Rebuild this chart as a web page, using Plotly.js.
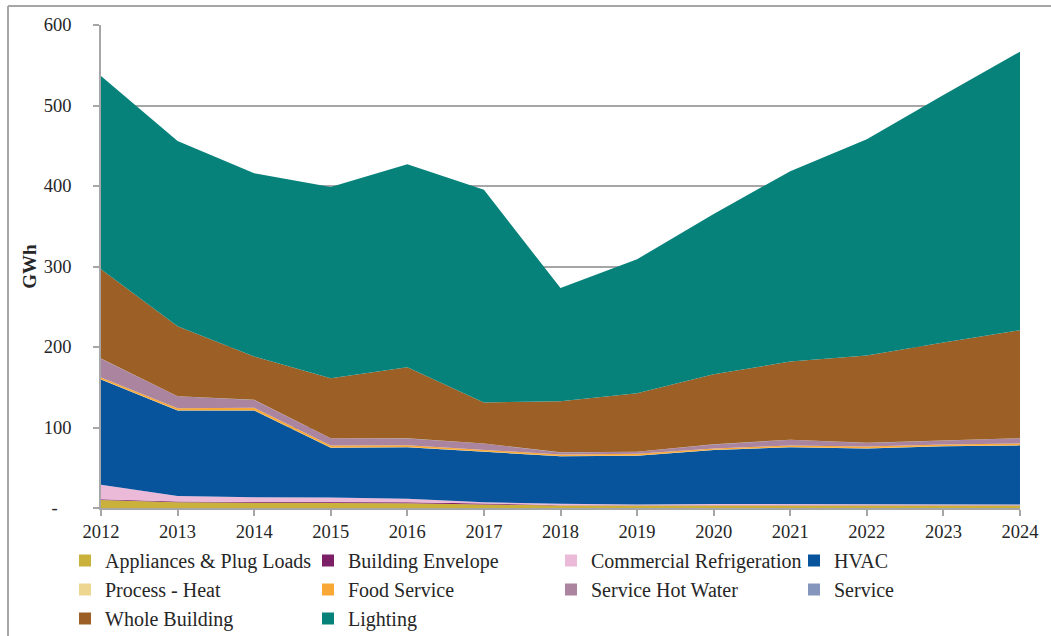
<!DOCTYPE html>
<html>
<head>
<meta charset="utf-8">
<script src="https://cdn.plot.ly/plotly-3.0.1.min.js"></script>
<style>
  html, body { margin: 0; padding: 0; background: #ffffff; }
  #chart { width: 1051px; height: 636px; }
</style>
</head>
<body>
<div id="chart"></div>
<script>
const years = [2012, 2013, 2014, 2015, 2016, 2017, 2018, 2019, 2020, 2021, 2022, 2023, 2024];

const appliancesPlugLoads     = [10, 7, 6.5, 6.5, 6, 4.5, 3, 3, 3, 3, 3, 3, 3];
const buildingEnvelope        = [1, 1, 1, 1, 1, 1, 0.5, 0.3, 0.3, 0.3, 0.3, 0.3, 0.3];
const commercialRefrigeration = [18, 7, 6, 5.5, 4.5, 1.5, 1.7, 1.2, 1.7, 1.7, 1.2, 1, 1];
const hvac                    = [130.5, 106, 107.6, 62, 64, 63, 59, 60.5, 67, 70.5, 69.5, 72.3, 73.5];
const processHeat             = [0.3, 0.3, 0.3, 0.3, 0.3, 0.3, 0.3, 0.3, 0.3, 0.3, 0.3, 0.3, 0.3];
const foodService             = [2.2, 2.7, 3.2, 2.3, 2.1, 1.7, 2.0, 2.0, 1.7, 1.9, 2.0, 2.0, 2.0];
const serviceHotWater         = [23.5, 14.7, 9.6, 9, 8.5, 8, 2.5, 2.5, 5, 7, 4.5, 5, 6.5];
const service                 = [0.2, 0.2, 0.2, 0.2, 0.2, 0.2, 0.2, 0.2, 0.2, 0.2, 0.2, 0.2, 0.2];
const wholeBuilding           = [111, 87, 53.8, 74.5, 88.3, 51, 63.5, 72.4, 87, 97, 108.4, 121.6, 134];
const lighting                = [240, 230, 227.6, 237.6, 252, 264, 140.5, 166.6, 199, 236.5, 268.6, 307.4, 346];

const seriesNames = ["Appliances & Plug Loads", "Building Envelope", "Commercial Refrigeration", "HVAC",
                     "Process - Heat", "Food Service", "Service Hot Water", "Service",
                     "Whole Building", "Lighting"];
const seriesValues = [appliancesPlugLoads, buildingEnvelope, commercialRefrigeration, hvac,
                      processHeat, foodService, serviceHotWater, service,
                      wholeBuilding, lighting];
const seriesColors = ["#c9b13c", "#7b1f66", "#ecbad9", "#07539c",
                      "#ecd690", "#f9a835", "#ab849f", "#8496bb",
                      "#9c6026", "#07827a"];

const yTickVals = [0, 100, 200, 300, 400, 500, 600];
const yTickText = ["-\u00a0\u00a0\u00a0", "100", "200", "300", "400", "500", "600"];

const FONT = "'Liberation Serif', 'DejaVu Serif', serif";
const TEXT = "#262626";

const traces = [];
seriesNames.forEach((name, i) => {
  traces.push({
    type: "scatter",
    mode: "lines",
    name: name,
    x: years,
    y: seriesValues[i],
    stackgroup: "one",
    line: { width: 0, color: seriesColors[i] },
    fillcolor: seriesColors[i],
    showlegend: false,
    hoverinfo: "x+y+name"
  });
});
seriesNames.forEach((name, i) => {
  traces.push({
    type: "scatter",
    mode: "markers",
    name: name,
    x: [null],
    y: [null],
    marker: { symbol: "square", size: 12, color: seriesColors[i] },
    showlegend: true,
    hoverinfo: "skip"
  });
});

const plotLeft = 101, plotWidth = 919, plotTop = 25, plotHeight = 483;
const px2x = p => (p - plotLeft) / plotWidth;
const px2y = p => 1 - (p - plotTop) / plotHeight;

const layout = {
  width: 1051,
  height: 636,
  margin: { l: 101, r: 31, t: 25, b: 128, pad: 0, autoexpand: false },
  paper_bgcolor: "#ffffff",
  plot_bgcolor: "#ffffff",
  font: { family: FONT, size: 18, color: TEXT },
  xaxis: {
    range: [2012, 2024],
    tickvals: years,
    ticktext: years.map(String),
    ticks: "outside",
    ticklen: 6,
    tickwidth: 1.5,
    tickcolor: "#a6a6a6",
    showline: true,
    linecolor: "#a6a6a6",
    linewidth: 1.5,
    showgrid: false,
    zeroline: false,
    fixedrange: true,
    automargin: false,
    tickfont: { family: FONT, size: 18.5, color: TEXT }
  },
  yaxis: {
    range: [0, 600],
    tickvals: yTickVals,
    ticktext: yTickText,
    ticks: "outside",
    ticklen: 6,
    tickwidth: 1.5,
    tickcolor: "#a6a6a6",
    ticklabelstandoff: 18,
    showline: true,
    linecolor: "#a6a6a6",
    linewidth: 1.5,
    showgrid: true,
    gridcolor: "#a6a6a6",
    gridwidth: 1.5,
    zeroline: false,
    fixedrange: true,
    automargin: false,
    tickfont: { family: FONT, size: 18.5, color: TEXT },
    title: { text: "<b>GWh</b>", font: { family: FONT, size: 19, color: TEXT }, standoff: 2 }
  },
  showlegend: true,
  legend: {
    orientation: "h",
    x: px2x(65),
    xanchor: "left",
    y: px2y(541),
    yanchor: "top",
    entrywidth: 198,
    entrywidthmode: "pixels",
    traceorder: "normal",
    font: { family: FONT, size: 20, color: TEXT },
    bgcolor: "rgba(0,0,0,0)",
    itemclick: false,
    itemdoubleclick: false
  },
  shapes: [
    { type: "line", xref: "paper", yref: "paper", x0: px2x(8), x1: px2x(1051), y0: px2y(6), y1: px2y(6),
      line: { color: "#a6a6a6", width: 2 } },
    { type: "line", xref: "paper", yref: "paper", x0: px2x(8), x1: px2x(8), y0: px2y(6), y1: px2y(636),
      line: { color: "#a6a6a6", width: 2 } }
  ],
  hovermode: "closest"
};

Plotly.newPlot("chart", traces, layout, { displayModeBar: false, responsive: false });
</script>
</body>
</html>
